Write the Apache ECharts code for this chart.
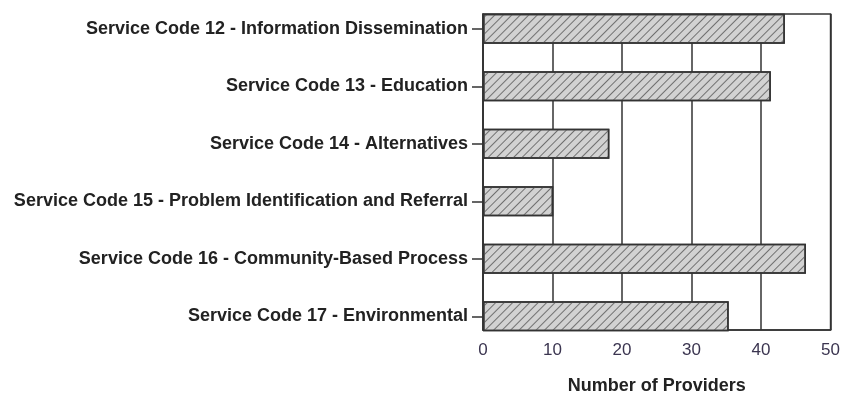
<!DOCTYPE html>
<html>
<head>
<meta charset="utf-8">
<script src="https://cdn.jsdelivr.net/npm/echarts@6/dist/echarts.min.js"></script>
<style>
  html, body { margin: 0; padding: 0; background: #fff; }
  #chart { width: 843px; height: 400px; }
</style>
</head>
<body>
<div id="chart"></div>
<script>
  // Datas
  var categories = [
    'Service Code 12 - Information Dissemination',
    'Service Code 13 - Education',
    'Service Code 14 - Alternatives',
    'Service Code 15 - Problem Identification and Referral',
    'Service Code 16 - Community-Based Process',
    'Service Code 17 - Environmental'
  ];
  var providers = [43, 41, 18, 10, 46, 35];
  var xTicks = [0, 10, 20, 30, 40, 50];

  var font = '"Liberation Sans", Arial, sans-serif';
  var dark = '#333';

  var chart = echarts.init(document.getElementById('chart'));
  var option = {
    animation: false,
    grid: [
      // frame, ticks and grid lines
      { left: 483, top: 14, width: 351, height: 318, show: true, borderColor: dark, borderWidth: 1.5, backgroundColor: 'transparent' },
      // bars (bands spread a bit wider so bars touch the frame)
      { left: 483, top: 0, width: 351, height: 345 }
    ],
    xAxis: [{
      gridIndex: 0,
      type: 'value',
      min: xTicks[0],
      max: xTicks[xTicks.length - 1],
      interval: 10,
      name: 'Number of Providers',
      nameLocation: 'middle',
      nameGap: 47,
      nameTextStyle: { fontFamily: font, fontWeight: 'bold', fontSize: 18, color: '#222' },
      axisLine: { show: true, lineStyle: { color: dark, width: 1.5 } },
      axisTick: { show: false },
      axisLabel: { fontFamily: font, fontSize: 17, color: '#3b3550', margin: 12 },
      splitLine: { show: true, lineStyle: { color: dark, width: 1.5 } }
    }, {
      gridIndex: 1,
      type: 'value',
      min: xTicks[0],
      max: xTicks[xTicks.length - 1],
      show: false
    }],
    yAxis: [{
      gridIndex: 0,
      type: 'category',
      data: categories,
      axisLine: { show: true, lineStyle: { color: dark, width: 1.5 } },
      axisTick: { show: false },
      axisLabel: { show: false },
      splitLine: { show: false }
    }, {
      gridIndex: 1,
      type: 'category',
      data: categories,
      inverse: true,
      axisLine: { show: false },
      axisTick: { show: true, length: 11, alignWithLabel: true, lineStyle: { color: dark, width: 1.5 } },
      axisLabel: { fontFamily: font, fontWeight: 'bold', fontSize: 18, color: '#222', margin: 15 },
      splitLine: { show: false }
    }],
    series: [{
      type: 'bar',
      xAxisIndex: 1,
      yAxisIndex: 1,
      data: providers,
      barWidth: 30,
      itemStyle: {
        color: '#d2d2d2',
        borderColor: dark,
        borderWidth: 1.5,
        decal: {
          symbol: 'rect',
          color: '#707070',
          dashArrayX: [1, 0],
          dashArrayY: [1, 4.5],
          rotation: -Math.PI / 4
        }
      }
    }]
  };
  chart.setOption(option);
</script>
</body>
</html>
